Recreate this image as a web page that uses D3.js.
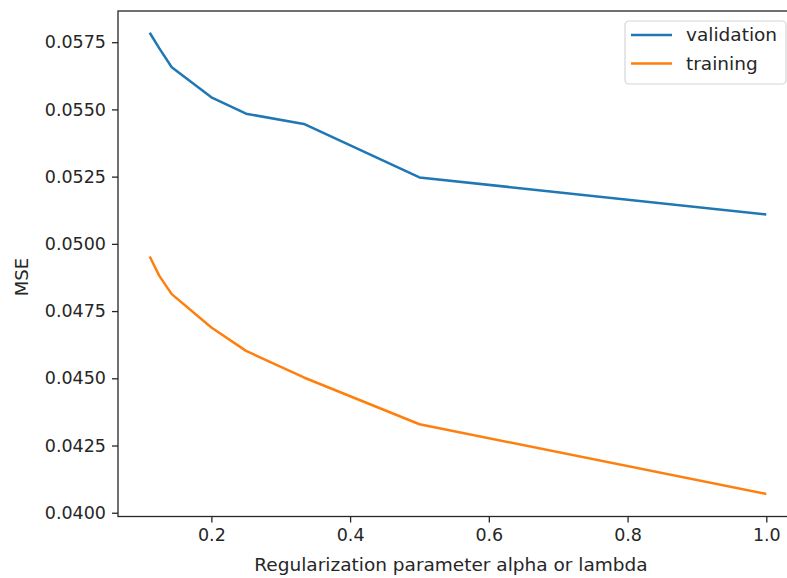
<!DOCTYPE html>
<html>
<head>
<meta charset="utf-8">
<script src="https://cdn.jsdelivr.net/npm/d3@7"></script>
<style>
  body { margin: 0; background: #fff; }
  svg { display: block; font-family: "DejaVu Sans", sans-serif; }
  .axis text { font-family: "DejaVu Sans", sans-serif; font-size: 17.5px; fill: #262626; }
  .axis path, .axis line { stroke: #262626; stroke-width: 1.3px; }
</style>
</head>
<body>
<svg id="chart" width="787" height="578"></svg>
<script>
// data
var alphas = [1/9, 1/8, 1/7, 1/5, 1/4, 1/3, 1/2, 1.0];
var validation = [0.05785, 0.05727, 0.05657, 0.05545, 0.05484, 0.05446, 0.05247, 0.05109];
var training = [0.04953, 0.04881, 0.04813, 0.04689, 0.04602, 0.04503, 0.04329, 0.04070];
var xTicks = [0.2, 0.4, 0.6, 0.8, 1.0];
var yTicks = [0.0400, 0.0425, 0.0450, 0.0475, 0.0500, 0.0525, 0.0550, 0.0575];

var series = [
  {name: "validation", vals: validation, color: "#1f77b4"},
  {name: "training", vals: training, color: "#ff7f0e"}
];

// plot area (right edge runs past the picture, as in the reference)
var margin = {top: 11, left: 118, bottom: 516.5, right: 798};

var svg = d3.select("#chart");

var x = d3.scaleLinear().domain([0.0654, 1.0457]).range([margin.left, margin.right]),
    y = d3.scaleLinear().domain([0.03986, 0.05866]).range([margin.bottom, margin.top]);

// frame
svg.append("rect")
  .attr("x", margin.left).attr("y", margin.top)
  .attr("width", margin.right - margin.left)
  .attr("height", margin.bottom - margin.top)
  .attr("fill", "none")
  .attr("stroke", "#262626")
  .attr("stroke-width", 1.3);

// x axis
svg.append("g")
  .attr("class", "axis")
  .attr("transform", "translate(0," + margin.bottom + ")")
  .call(d3.axisBottom(x).tickValues(xTicks).tickFormat(d3.format(".1f")).tickSize(6).tickPadding(6).tickSizeOuter(0))
  .call(function(g) { g.select(".domain").remove(); });

// y axis
svg.append("g")
  .attr("class", "axis")
  .attr("transform", "translate(" + margin.left + ",0)")
  .call(d3.axisLeft(y).tickValues(yTicks).tickFormat(d3.format(".4f")).tickSize(6).tickPadding(6).tickSizeOuter(0))
  .call(function(g) { g.select(".domain").remove(); });

// axis labels
svg.append("text")
  .attr("x", 451).attr("y", 571)
  .attr("text-anchor", "middle")
  .attr("font-size", 18.5).attr("fill", "#262626")
  .text("Regularization parameter alpha or lambda");

svg.append("text")
  .attr("transform", "translate(28,277) rotate(-90)")
  .attr("text-anchor", "middle")
  .attr("font-size", 18).attr("fill", "#262626")
  .text("MSE");

// lines
var line = d3.line()
  .x(function(d, i) { return x(alphas[i]); })
  .y(function(d) { return y(d); });

svg.selectAll(".series")
    .data(series)
  .enter().append("path")
    .attr("class", "series")
    .attr("d", function(d) { return line(d.vals); })
    .attr("fill", "none")
    .attr("stroke", function(d) { return d.color; })
    .attr("stroke-width", 2.5)
    .attr("stroke-linejoin", "round")
    .attr("stroke-linecap", "butt");

// legend
var legend = svg.append("g").attr("transform", "translate(625,21)");
legend.append("rect")
  .attr("width", 161).attr("height", 63).attr("rx", 4)
  .attr("fill", "#fff").attr("fill-opacity", 0.8)
  .attr("stroke", "#d6d6d6").attr("stroke-width", 1.2);

var items = legend.selectAll(".item")
    .data(series)
  .enter().append("g")
    .attr("class", "item")
    .attr("transform", function(d, i) { return "translate(0," + (14 + i * 28.5) + ")"; });

items.append("line")
  .attr("x1", 6).attr("x2", 47)
  .attr("stroke", function(d) { return d.color; })
  .attr("stroke-width", 2.5);

items.append("text")
  .attr("x", 61).attr("dy", "0.35em")
  .attr("font-size", 18.5).attr("fill", "#262626")
  .text(function(d) { return d.name; });
</script>
</body>
</html>
